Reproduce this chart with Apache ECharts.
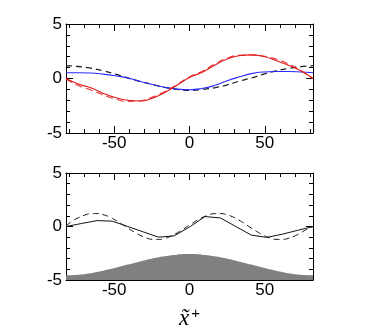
<!DOCTYPE html>
<html>
<head>
<meta charset="utf-8">
<style>html,body{margin:0;padding:0;background:#fff}#c{width:390px;height:331px}</style>
<script src="https://cdn.jsdelivr.net/npm/echarts@6/dist/echarts.min.js"></script>
</head>
<body>
<div id="c"></div>
<script>
// x positions (top panel curves, gray hump)
const xTop = [-82,-73.8,-65.6,-57.4,-49.2,-41,-32.8,-24.6,-16.4,-8.2,0,8.2,16.4,24.6,32.8,41,49.2,57.4,65.6,73.8,82];
const redSolid = [0.0,-0.5,-0.85,-1.35,-1.75,-2.0,-2.07,-1.8,-1.28,-0.6,0.1,0.55,1.2,1.76,2.08,2.17,2.02,1.66,1.22,0.72,0.0];
const redDashed = [-0.05,-0.65,-1.05,-1.5,-1.88,-2.1,-2.05,-1.7,-1.2,-0.55,0.15,0.65,1.3,1.85,2.12,2.15,2.05,1.78,1.35,0.75,0.0];
const blueSolid = [0.53,0.53,0.5,0.4,0.25,0.05,-0.27,-0.55,-0.8,-0.97,-1.03,-0.92,-0.65,-0.22,0.14,0.45,0.6,0.64,0.64,0.6,0.53];
const blackDashedTop = [1.18,1.1,0.95,0.72,0.4,0.05,-0.27,-0.55,-0.82,-1.0,-1.08,-1.02,-0.85,-0.6,-0.25,0.05,0.4,0.7,0.92,1.08,1.18];
const hump = [-4.55,-4.5,-4.36,-4.13,-3.86,-3.56,-3.26,-2.98,-2.77,-2.63,-2.58,-2.63,-2.77,-2.98,-3.26,-3.56,-3.86,-4.13,-4.36,-4.5,-4.55];
// bottom panel
const xSolidBot = [-82,-71.75,-61.5,-51.25,-41,-30.75,-20.5,-10.25,0,10.25,20.5,30.75,41,51.25,61.5,71.75,82];
const blackSolidBot = [0.0,0.28,0.55,0.5,0.0,-0.5,-1.0,-0.88,-0.05,0.93,0.8,0.0,-0.8,-1.02,-0.72,-0.36,0.0];
const xDashBot = [-82,-77.9,-73.8,-69.7,-65.6,-61.5,-57.4,-53.3,-49.2,-45.1,-41,-36.9,-32.8,-28.7,-24.6,-20.5,-16.4,-12.3,-8.2,-4.1,0,4.1,8.2,12.3,16.4,20.5,24.6,28.7,32.8,36.9,41,45.1,49.2,53.3,57.4,61.5,65.6,69.7,73.8,77.9,82];
const blackDashedBot = [0.05,0.5,0.82,1.06,1.2,1.21,1.11,0.9,0.6,0.24,-0.14,-0.5,-0.82,-1.06,-1.2,-1.21,-1.11,-0.9,-0.6,-0.24,0.14,0.5,0.82,1.06,1.2,1.21,1.11,0.9,0.6,0.24,-0.14,-0.5,-0.82,-1.06,-1.2,-1.21,-1.11,-0.9,-0.6,-0.26,-0.02];
const xMajor = [-50,0,50];
const xMinor = [-80,-70,-60,-40,-30,-20,-10,10,20,30,40,60,70,80];
const yTicks = ['-5','0','5'];

const pairs = (xs, ys) => xs.map((x,i)=>[x, ys[i]]);
const FONT = 'Liberation Sans';
function xAxes(g){
  const base = {type:'value', gridIndex:g, min:-82, max:82, splitLine:{show:false}};
  return [
    Object.assign({}, base, {position:'bottom',
      axisLine:{show:true, onZero:false, lineStyle:{color:'#000', width:1}},
      axisTick:{show:true, inside:true, length:7, customValues:xMajor, lineStyle:{color:'#000'}},
      axisLabel:{show:true, customValues:xMajor, margin:2, color:'#000', fontSize:17, fontFamily:FONT},
      name: g===1 ? '{a|x\u0303}{b|+}' : '', nameLocation:'middle', nameGap:26,
      nameTextStyle:{rich:{a:{fontFamily:'Liberation Serif', fontStyle:'italic', fontSize:23, color:'#000'}, b:{fontFamily:FONT, fontSize:15, color:'#000', padding:[0,0,10,2]}}}
    }),
    Object.assign({}, base, {position:'bottom', axisLine:{show:false, onZero:false},
      axisTick:{show:true, inside:true, length:4, customValues:xMinor, lineStyle:{color:'#000'}}, axisLabel:{show:false}}),
    Object.assign({}, base, {position:'top', axisLine:{show:true, onZero:false, lineStyle:{color:'#000', width:1}},
      axisTick:{show:true, inside:true, length:7, customValues:xMajor, lineStyle:{color:'#000'}}, axisLabel:{show:false}}),
    Object.assign({}, base, {position:'top', axisLine:{show:false, onZero:false},
      axisTick:{show:true, inside:true, length:4, customValues:xMinor, lineStyle:{color:'#000'}}, axisLabel:{show:false}})
  ];
}
function yAxes(g){
  const base = {type:'value', gridIndex:g, min:-5, max:5, interval:5, splitLine:{show:false},
    minorTick:{show:true, splitNumber:5, length:4, lineStyle:{color:'#000'}},
    axisTick:{show:true, inside:true, length:7, lineStyle:{color:'#000'}},
    axisLine:{show:true, onZero:false, lineStyle:{color:'#000', width:1}}};
  return [
    Object.assign({}, base, {position:'left', axisLabel:{show:true, margin:4, color:'#000', fontSize:17, fontFamily:FONT,
      formatter:(v)=> yTicks[[-5,0,5].indexOf(v)] || ''}}),
    Object.assign({}, base, {position:'right', axisLabel:{show:false}})
  ];
}
function line(data, color, width, type, xi, yi, extra){
  return Object.assign({type:'line', data, xAxisIndex:xi, yAxisIndex:yi, symbol:'none', smooth:true,
    lineStyle:{color, width, type}, animation:false, z:3}, extra||{});
}
const option = {
  animation:false,
  grid:[
    {left:66, right:77, top:24, height:109},
    {left:66, right:77, top:173, height:109}
  ],
  xAxis: xAxes(0).concat(xAxes(1)),
  yAxis: yAxes(0).concat(yAxes(1)),
  series:[
    line(pairs(xTop, blackDashedTop), '#222', 1.3, [6,4], 0, 0),
    line(pairs(xTop, blueSolid), '#2a2aff', 1.1, 'solid', 0, 0),
    line(pairs(xTop, redDashed), '#e8383a', 1.1, [7,4], 0, 0),
    line(pairs(xTop, redSolid), '#e01a1a', 1.1, 'solid', 0, 0),
    line(pairs(xTop, hump), '#808080', 0, 'solid', 4, 2, {areaStyle:{color:'#808080', opacity:1, origin:'start'}, z:1}),
    line(pairs(xDashBot, blackDashedBot), '#111', 1, [6,4], 4, 2),
    line(pairs(xSolidBot, blackSolidBot), '#111', 1, 'solid', 4, 2, {smooth:false})
  ]
};
echarts.init(document.getElementById('c'), null, {renderer:'canvas'}).setOption(option);
</script>
</body>
</html>
